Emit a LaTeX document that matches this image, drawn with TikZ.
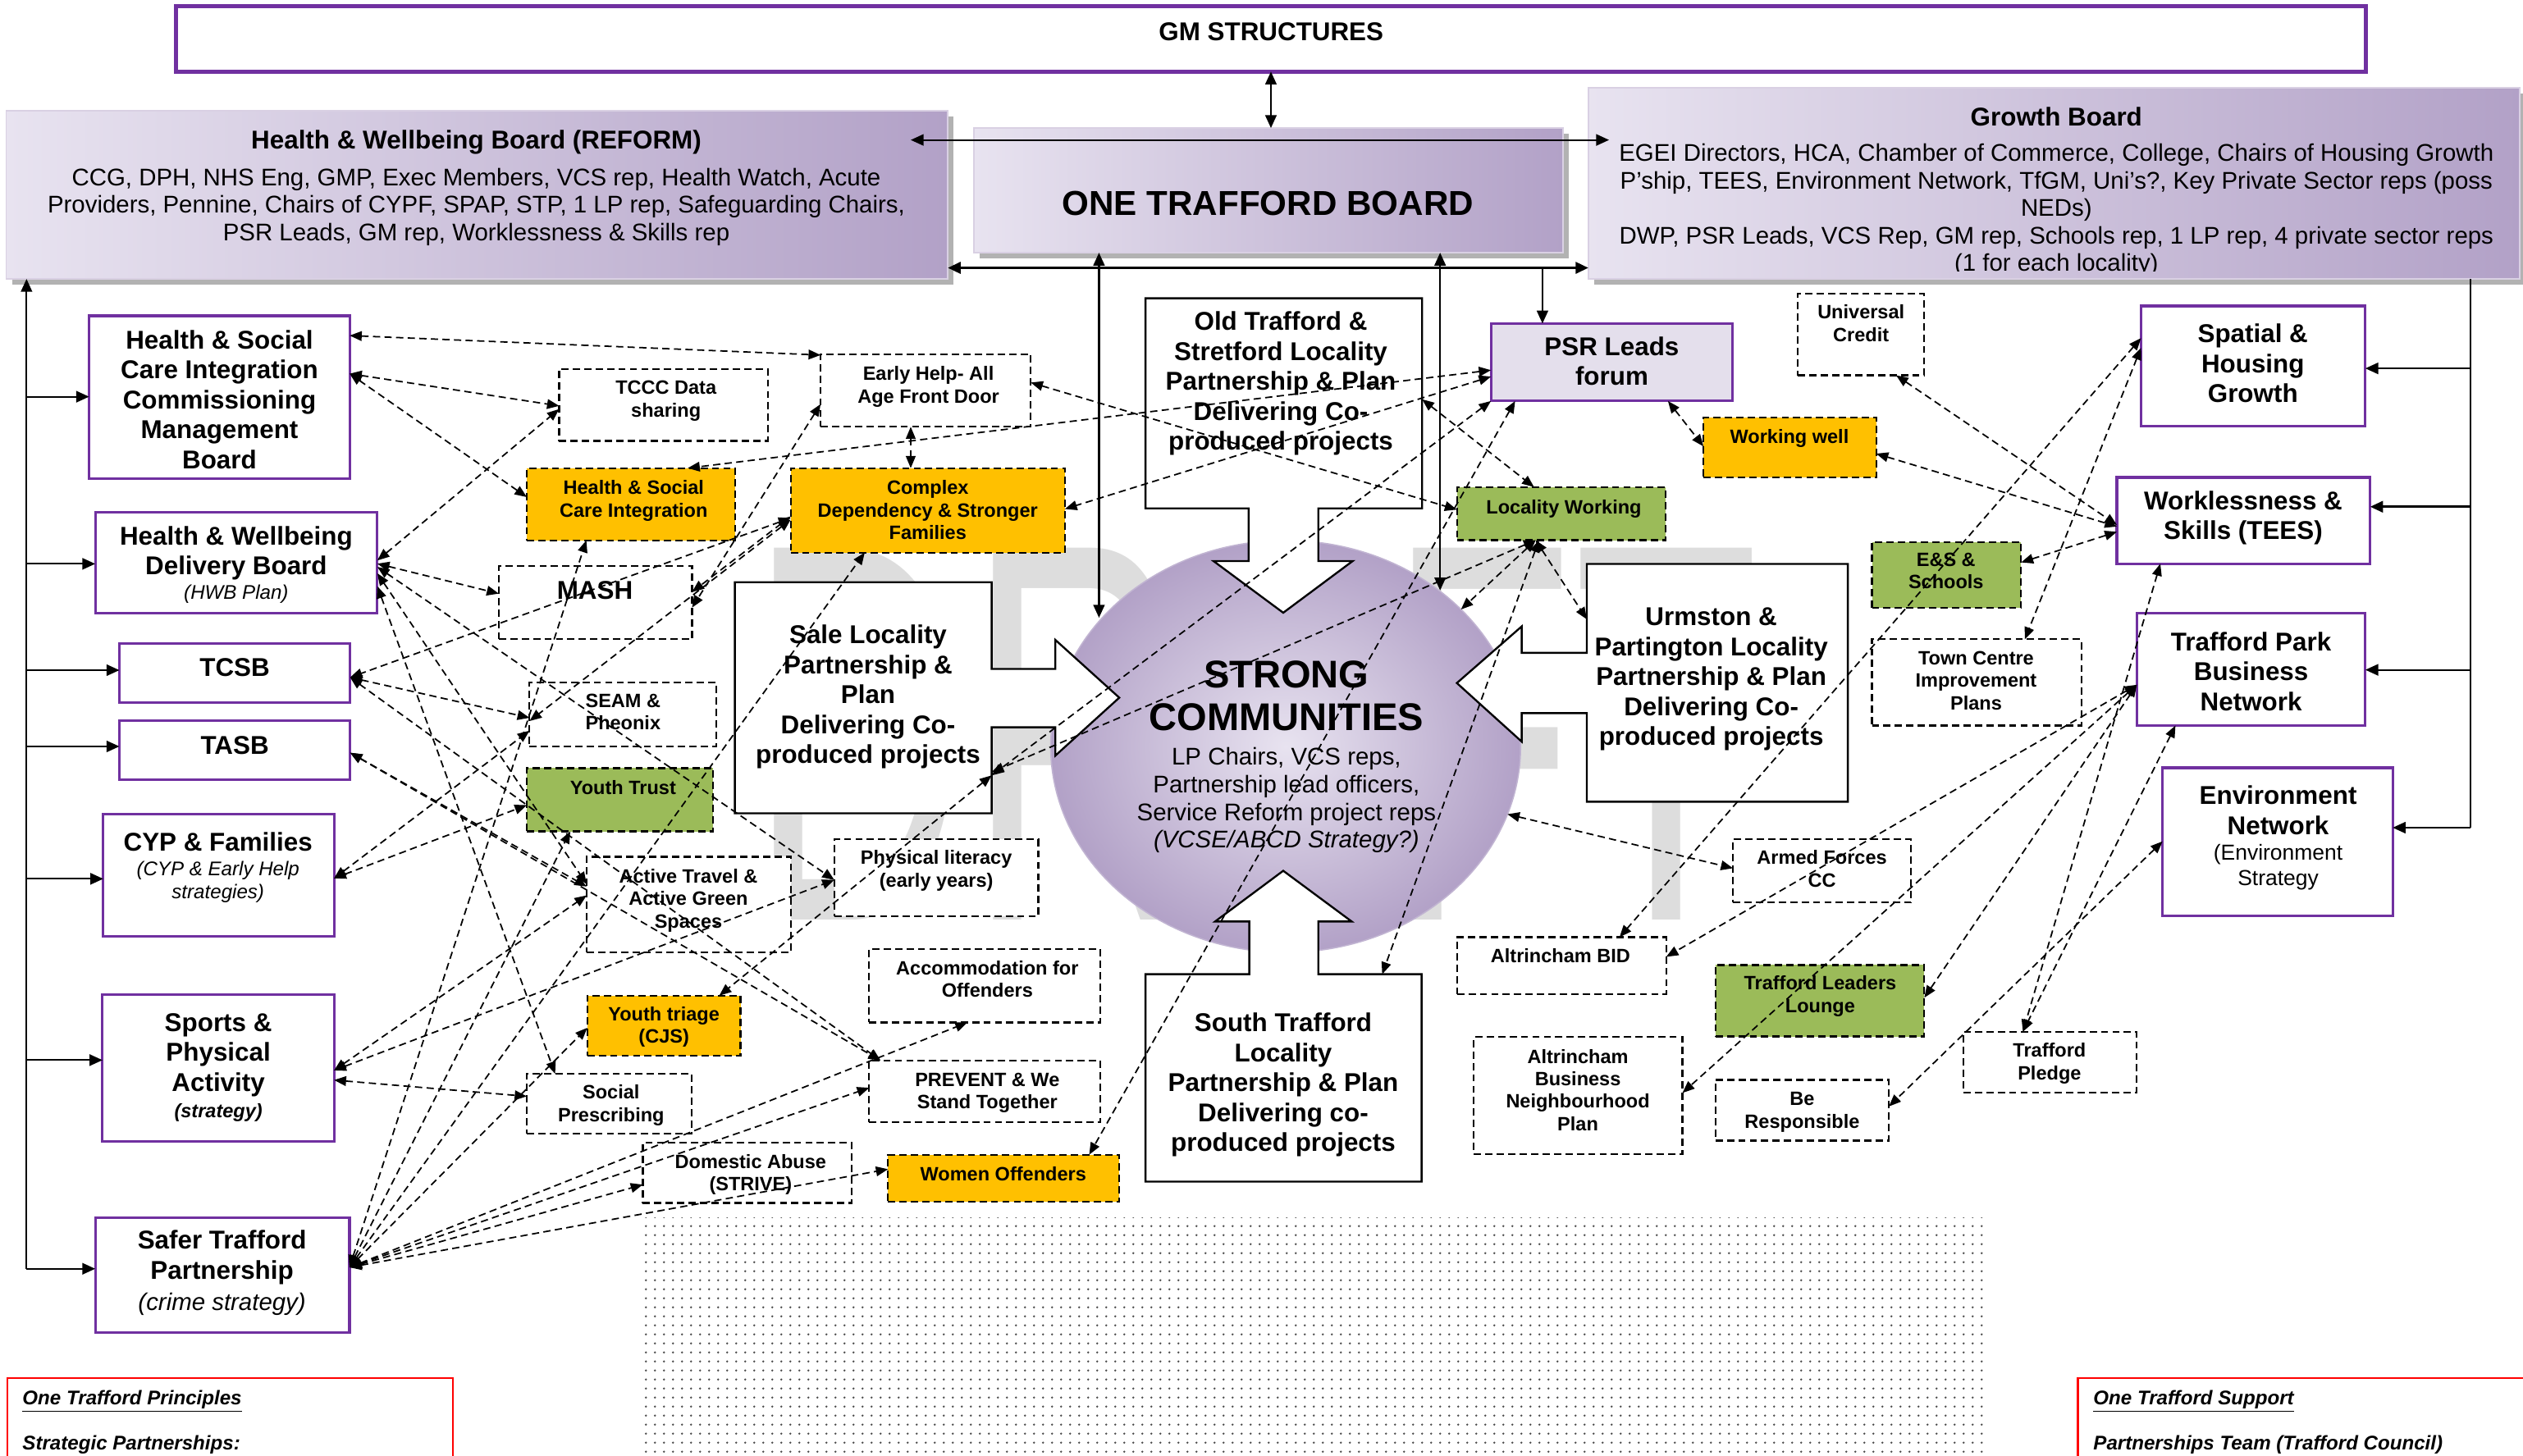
\documentclass[tikz,border=0pt]{standalone}
\usepackage{graphicx}
\usepackage{fontspec}
\setmainfont{Liberation Sans}
\usetikzlibrary{arrows.meta,shapes.geometric,patterns.meta}
\definecolor{gmpurple}{HTML}{7030A0}
\definecolor{yel}{HTML}{FFC000}
\definecolor{grn}{HTML}{9BBB59}
\definecolor{psrfill}{HTML}{E4DFEC}
\definecolor{lavL}{HTML}{E8E3F0}
\definecolor{lavD}{HTML}{B2A1C7}
\definecolor{wm}{HTML}{DDDDDD}
\tikzdeclarepattern{
  name=finedots,
  type=uncolored,
  bounding box={(0pt,0pt) and (5.7pt,5.7pt)},
  tile size={(5.7pt,5.7pt)},
  code={\pgfpathcircle{\pgfqpoint{2.85pt}{2.85pt}}{0.75pt}\pgfusepath{fill}}
}
\newcommand\fT{\fontsize{16}{18.6}\selectfont\bfseries}
\newcommand\fS{\fontsize{12}{14}\selectfont\bfseries}
\newcommand\fR{\fontsize{15}{17.1}\selectfont}
\newcommand\fI{\fontsize{12.3}{14.2}\selectfont\itshape}
\newcommand\bx[6]{\node[#6, minimum width={#4-#2}, minimum height={#5-#3}] (#1) at ({(#2+#4)/2},{(#3+#5)/2}) {};}
\newcommand\tx[5]{\node[tx, font=#4] (#1) at (#2,#3) {#5};}
\newcommand\pnw[3]{([shift={(#2,#3)}]#1.north west)}
\begin{document}
\begin{tikzpicture}[x=1pt,y=-1pt,
  every node/.style={inner sep=0pt,outer sep=0pt},
  purplebox/.style={draw=gmpurple, line width=1.6pt, fill=white},
  dbox/.style={draw=black, line width=1.1pt, dash pattern=on 4.5pt off 2.6pt, fill=white},
  ybox/.style={dbox, fill=yel},
  gbox/.style={dbox, fill=grn},
  psrbox/.style={draw=gmpurple, line width=1.6pt, fill=psrfill},
  board/.style={draw=lavD!50!white, line width=0.8pt, left color=lavL, right color=lavD},
  locshape/.style={draw=black, line width=1.2pt, fill=white},
  tx/.style={align=center, execute at begin node=\strut, execute at end node=\strut},
  conn/.style={draw=black, line width=0.9pt, dash pattern=on 4.5pt off 2.7pt, >={Triangle[length=7.5pt,width=6pt]}, <->},
  sln/.style={draw=black, line width=1.1pt},
  sarr/.style={sln, >={Triangle[length=8pt,width=7pt]}, ->},
  sboth/.style={sln, >={Triangle[length=8pt,width=7pt]}, <->}]
\useasboundingbox (0,0) rectangle (1568,905);
\fill[white] (0,0) rectangle (1568,905);

% watermark and dotted area
\node[anchor=base west, text=wm, font=\fontsize{336}{336}\selectfont] (wmark) at (466,572) {\scalebox{0.56}[1]{DRAFT}};
\fill[pattern=finedots, pattern color=black!70] (399.8,757.2) rectangle (1234.7,905);

% GM structures
\bx{gm}{109.2}{3.9}{1470.5}{44.5}{draw=gmpurple, line width=2.4pt, fill=white}
\tx{tgm}{790}{21.5}{\fT}{GM STRUCTURES}

% boards
\fill[gray!60] (7.4,72.3) rectangle (592.5,176.9);
\bx{hwb}{3.9}{68.8}{589}{173.4}{board}
\fill[gray!60] (608.7,83.1) rectangle (975,160.6);
\bx{otb}{605.2}{79.6}{971.5}{157.1}{board}
\fill[gray!60] (990.7,58.1) rectangle (1571,176.8);
\bx{growth}{987.2}{54.6}{1566}{173.3}{board}
\tx{thwb1}{296}{89}{\fT}{Health \& Wellbeing Board (REFORM)}
\tx{thwb2}{296}{129.5}{\fR}{CCG, DPH,  NHS Eng, GMP,  Exec Members, VCS rep, Health Watch,  Acute\\Providers, Pennine, Chairs of CYPF, SPAP, STP, 1 LP rep, Safeguarding Chairs,\\PSR Leads, GM rep, Worklessness \& Skills rep}
\tx{totb}{788}{128.6}{\fontsize{21.5}{25}\selectfont\bfseries}{ONE TRAFFORD BOARD}
\tx{tgr1}{1278}{74.6}{\fT}{Growth Board}
\begin{scope}
\clip (987.2,54.6) rectangle (1566,168.3);
\tx{tgr2}{1278}{131.7}{\fR}{EGEI Directors, HCA, Chamber of Commerce, College,  Chairs of Housing Growth\\P’ship, TEES, Environment Network,  TfGM, Uni’s?, Key Private Sector reps (poss\\NEDs)\\DWP, PSR Leads, VCS Rep, GM rep, Schools rep, 1 LP rep, 4 private sector reps\\(1 for each locality)}
\end{scope}

% solid connectors at top
\draw[sboth] (gm.south) -- (gm.south |- otb.north);
\coordinate (h87) at (566,87);
\coordinate (g87) at (1000,87);
\draw[sboth] (h87) -- (g87);
\coordinate (h166) at (589,166.5);
\coordinate (g166) at (987.2,166.5);
\draw[sboth, line width=1.8pt] (h166) -- (g166);
\coordinate (v1b) at (683,384);
\coordinate (v2b) at (895,367);
\draw[sboth] (otb.south -| v1b) -- (v1b);
\draw[sboth] (otb.south -| v2b) -- (v2b);
\coordinate (v3t) at (958.6,166.5);

% left trunk
\coordinate (ltTop) at (16.5,173.4);
\coordinate (ltBot) at (16.5,788.7);
\draw[sarr] (ltBot) -- (ltTop);
\coordinate (lb1) at (16.5,246.6);
\coordinate (lb2) at (16.5,350.5);
\coordinate (lb3) at (16.5,416.6);
\coordinate (lb4) at (16.5,464);
\coordinate (lb5) at (16.5,546.3);
\coordinate (lb6) at (16.5,659);
% right trunk
\coordinate (rtTop) at (1535.5,173.3);
\coordinate (rtBot) at (1535.5,514.5);
\draw[sln] (rtTop) -- (rtBot);
\coordinate (rb1) at (1535.5,229);
\coordinate (rb2) at (1535.5,315);
\coordinate (rb3) at (1535.5,416.4);

% strong communities
\node[ellipse, minimum width=292, minimum height=256, inner color=lavL, outer color=lavD, draw=lavD!80!white, line width=0.8pt] (sc) at (799,464) {};
\tx{tsc1}{799.5}{436.5}{\fontsize{24}{26.4}\selectfont\bfseries}{STRONG\\COMMUNITIES}
\tx{tsc2}{799.5}{498.5}{\fR}{LP Chairs, VCS reps,\\Partnership lead officers,\\Service Reform project reps\\\textit{(VCSE/ABCD Strategy?)}}

% locality arrow shapes
\draw[locshape] (711.9,185.4) -- (883.8,185.4) -- (883.8,316) -- (819.3,316) -- (819.3,348.8) -- (840.6,348.8) -- (797.5,380.9) -- (754.2,348.8) -- (776,348.8) -- (776,316) -- (711.9,316) -- cycle;
\draw[locshape] (456.7,361.9) -- (616.3,361.9) -- (616.3,415.8) -- (655.9,415.8) -- (655.9,397.8) -- (695.6,433.7) -- (655.9,469.7) -- (655.9,452.1) -- (616.3,452.1) -- (616.3,505.6) -- (456.7,505.6) -- cycle;
\draw[locshape] (986.2,350.6) -- (1148.4,350.6) -- (1148.4,498.4) -- (986.2,498.4) -- (986.2,443.3) -- (945.7,443.3) -- (945.7,461) -- (905.4,424.6) -- (945.7,389.4) -- (945.7,405.8) -- (986.2,405.8) -- cycle;
\draw[locshape] (711.9,734.5) -- (711.9,605.6) -- (776.4,605.6) -- (776.4,572.8) -- (755.2,572.8) -- (797.5,541.3) -- (840,572.8) -- (819.3,572.8) -- (819.3,605.6) -- (883.5,605.6) -- (883.5,734.5) -- cycle;
\tx{tot}{796}{239.6}{\fT}{Old Trafford \&\\Stretford Locality\\Partnership \& Plan\\Delivering Co-\\produced projects}
\tx{tsale}{539.5}{434.3}{\fT}{Sale Locality\\Partnership \&\\Plan\\Delivering Co-\\produced projects}
\tx{turm}{1063.5}{423.5}{\fT}{Urmston \&\\Partington Locality\\Partnership \& Plan\\Delivering Co-\\produced projects}
\tx{tst}{797.5}{675.6}{\fT}{South Trafford\\Locality\\Partnership \& Plan\\Delivering co-\\produced projects}
\coordinate (saleR) at (616.3,482);
\coordinate (otR) at (883.8,248.2);
\coordinate (urmL) at (986.2,385);
\coordinate (stT) at (859,605.6);

% left purple boxes
\bx{hsci}{55.4}{196.3}{217.3}{297.4}{purplebox}
\bx{hwbd}{59.2}{318.4}{234.5}{381.3}{purplebox}
\bx{tcsb}{74.2}{400.1}{217.6}{436.8}{purplebox}
\bx{tasb}{74.2}{447.9}{217.6}{484.8}{purplebox}
\bx{cyp}{64.2}{506}{207.6}{582}{purplebox}
\bx{sports}{63.7}{618.4}{207.6}{709.4}{purplebox}
\bx{safer}{59.2}{756.8}{217.2}{828.3}{purplebox}
\tx{thsci}{136.4}{251.1}{\fT}{Health \& Social\\Care Integration\\Commissioning\\Management\\Board}
\tx{thwbd}{146.8}{345.1}{\fT}{Health \& Wellbeing\\Delivery Board}
\tx{thwbd2}{146.8}{369.7}{\fI}{(HWB Plan)}
\tx{ttcsb}{145.9}{416.6}{\fT}{TCSB}
\tx{ttasb}{145.9}{465}{\fT}{TASB}
\tx{tcyp}{135.5}{525.5}{\fT}{CYP \& Families}
\tx{tcyp2}{135.5}{549.3}{\fI}{(CYP \& Early Help\\strategies)}
\tx{tsports}{135.7}{657}{\fontsize{16}{18.8}\selectfont\bfseries}{Sports \&\\Physical\\Activity}
\tx{tsports2}{135.7}{692}{\fontsize{12}{14}\selectfont\bfseries\itshape}{(strategy)}
\tx{tsafer}{138}{782.9}{\fontsize{16}{19.1}\selectfont\bfseries}{Safer Trafford\\Partnership}
\tx{tsafer2}{138}{811}{\fR\itshape}{(crime strategy)}
% left branch arrows
\draw[sarr] (lb1) -- (hsci.west |- lb1);
\draw[sarr] (lb2) -- (hwbd.west |- lb2);
\draw[sarr] (lb3) -- (tcsb.west |- lb3);
\draw[sarr] (lb4) -- (tasb.west |- lb4);
\draw[sarr] (lb5) -- (cyp.west |- lb5);
\draw[sarr] (lb6) -- (sports.west |- lb6);
\draw[sarr] (ltBot) -- (safer.west |- ltBot);

% middle dashed boxes
\bx{tccc}{347.5}{229.3}{477.1}{274.1}{dbox}
\bx{early}{510}{220.2}{640.6}{265.3}{dbox}
\bx{hscy}{327.4}{291}{457}{335.9}{ybox}
\bx{cdsf}{491.4}{291}{661.8}{343.5}{ybox}
\bx{mash}{310}{352}{430.1}{397.2}{dbox}
\bx{seam}{329.1}{424.2}{445}{464}{dbox}
\bx{ytrust}{327.4}{477.5}{443.2}{516.8}{gbox}
\bx{atravel}{364.6}{532.6}{491.5}{591.8}{dbox}
\bx{plit}{518.5}{521.6}{645.3}{569.6}{dbox}
\bx{accom}{540.2}{589.9}{683.8}{635.6}{dbox}
\bx{ytriage}{365}{618.9}{460.2}{656.3}{ybox}
\bx{socp}{327.4}{667.5}{429.9}{704.9}{dbox}
\bx{prevent}{540.2}{659.2}{683.8}{697.7}{dbox}
\bx{dabuse}{399.5}{710.4}{529.4}{747.8}{dbox}
\bx{women}{551.9}{717.8}{695.6}{747.2}{ybox}
\tx{ttccc}{413.9}{250.1}{\fS}{TCCC Data\\sharing}
\tx{tearly}{577}{241.3}{\fS}{Early Help- All\\Age Front Door}
\tx{thscy}{393.8}{312.1}{\fS}{Health \& Social\\Care Integration}
\tx{tcdsf}{576.6}{319.2}{\fS}{Complex\\Dependency \& Stronger\\Families}
\tx{tmash}{369.7}{368.7}{\fT}{MASH}
\tx{tseam}{387.2}{444.6}{\fS}{SEAM \&\\Pheonix}
\tx{tytrust}{387.2}{490.8}{\fS}{Youth Trust}
\tx{tatravel}{427.8}{560.5}{\fS}{Active Travel \&\\Active Green\\Spaces}
\tx{tplit}{581.9}{542}{\fS}{Physical literacy\\(early years)}
\tx{taccom}{613.6}{610.6}{\fS}{Accommodation for\\Offenders}
\tx{tytriage}{412.6}{639.1}{\fS}{Youth triage\\(CJS)}
\tx{tsocp}{379.8}{688}{\fS}{Social\\Prescribing}
\tx{tprevent}{613.6}{680.1}{\fS}{PREVENT \& We\\Stand Together}
\tx{tdabuse}{466.5}{730.9}{\fS}{Domestic Abuse\\(STRIVE)}
\tx{twomen}{623.5}{731.4}{\fS}{Women Offenders}

% right-hand boxes
\bx{psr}{926.6}{201.1}{1076.8}{249.3}{psrbox}
\bx{ucredit}{1117.4}{182.6}{1195.9}{233.3}{dbox}
\bx{wwell}{1058.7}{259.5}{1166}{296.8}{ybox}
\bx{locw}{905.4}{302.8}{1035.2}{335.8}{gbox}
\bx{es}{1163.4}{336.9}{1256.1}{377.9}{gbox}
\bx{tcip}{1163.4}{397.4}{1293.5}{451}{dbox}
\bx{spatial}{1330.6}{190.2}{1470}{265}{purplebox}
\bx{tees}{1315.6}{296.8}{1473}{350.4}{purplebox}
\bx{tpark}{1328}{381.3}{1470}{451}{purplebox}
\bx{env}{1344}{477.3}{1487}{569.5}{purplebox}
\bx{armed}{1077}{521.7}{1187.7}{561}{dbox}
\bx{abid}{905.5}{582.6}{1035.5}{618}{dbox}
\bx{tll}{1066.1}{599.9}{1195.9}{644.3}{gbox}
\bx{abnp}{916}{644.7}{1045.6}{717.4}{dbox}
\bx{beresp}{1066.1}{671.3}{1173.9}{709}{dbox}
\bx{pledge}{1220.2}{641.3}{1328}{679}{dbox}
\tx{tpsr}{1001.7}{227.2}{\fT}{PSR Leads\\forum}
\tx{tucredit}{1156.6}{203.1}{\fS}{Universal\\Credit}
\tx{twwell}{1112.1}{272.9}{\fS}{Working well}
\tx{tlocw}{971.9}{316.9}{\fS}{Locality Working}
\tx{tes}{1209.4}{356.8}{\fS}{E\&S \&\\Schools}
\tx{ttcip}{1228.1}{425.1}{\fS}{Town Centre\\Improvement\\Plans}
\tx{tspatial}{1400.1}{228.6}{\fT}{Spatial \&\\Housing\\Growth}
\tx{ttees}{1394.1}{323.1}{\fT}{Worklessness \&\\Skills (TEES)}
\tx{ttpark}{1399}{420.1}{\fT}{Trafford Park\\Business\\Network}
\tx{tenv}{1415.8}{506.4}{\fT}{Environment\\Network}
\tx{tenv2}{1415.8}{540.1}{\fontsize{13.5}{15.6}\selectfont}{(Environment\\Strategy}
\tx{tarmed}{1132.3}{542}{\fS}{Armed Forces\\CC}
\tx{tabid}{969.8}{595.5}{\fS}{Altrincham BID}
\tx{ttll}{1131.2}{620.2}{\fS}{Trafford Leaders\\Lounge}
\tx{tabnp}{980.6}{679.6}{\fS}{Altrincham\\Business\\Neighbourhood\\Plan}
\tx{tberesp}{1120}{692.1}{\fS}{Be\\Responsible}
\tx{tpledge}{1273.7}{661.9}{\fS}{Trafford\\Pledge}
\draw[sarr] (v3t) -- (psr.north -| v3t);
\draw[sarr] (rb1) -- (spatial.east |- rb1);
\draw[sarr, line width=1.5pt] (rb2) -- (tees.east |- rb2);
\draw[sarr] (rb3) -- (tpark.east |- rb3);
\draw[sarr] (rtBot) -- (env.east |- rtBot);

% bottom red boxes
\draw[red, line width=1.3pt] (4.6,856.7) rectangle (281.4,915);
\draw[red, line width=1.3pt] (1291.3,856.7) rectangle (1575,915);
\node[anchor=base west, font=\fontsize{12.3}{14}\selectfont\bfseries\itshape] (otp1) at (14,873.4) {\underline{One Trafford Principles}};
\node[anchor=base west, font=\fontsize{12.3}{14}\selectfont\bfseries\itshape] (otp2) at (14,901.4) {Strategic Partnerships:};
\node[anchor=base west, font=\fontsize{12.3}{14}\selectfont\bfseries\itshape] (ots1) at (1301,873.4) {\underline{One Trafford Support}};
\node[anchor=base west, font=\fontsize{12.3}{14}\selectfont\bfseries\itshape] (ots2) at (1301,901.4) {Partnerships Team (Trafford Council)};

% dashed connectors
\draw[conn] \pnw{hsci}{161.9}{12.3} -- \pnw{early}{0}{0.5};
\draw[conn] \pnw{hsci}{161.9}{36} -- \pnw{tccc}{0}{23};
\draw[conn] \pnw{hsci}{161.9}{36} -- \pnw{hscy}{0}{18};
\draw[conn] \pnw{hwbd}{175.3}{30} -- \pnw{tccc}{0}{25};
\draw[conn] \pnw{hwbd}{175.3}{32} -- \pnw{mash}{0}{17};
\draw[conn] \pnw{hwbd}{175.3}{34} -- \pnw{plit}{0}{25.4};
\draw[conn] \pnw{hwbd}{175.3}{46} -- \pnw{socp}{17.6}{0};
\draw[conn] \pnw{hwbd}{175.3}{38} -- \pnw{atravel}{0}{17};
\draw[conn] \pnw{psr}{0}{29} -- \pnw{hscy}{100}{0};
\draw[conn] \pnw{psr}{0}{33} -- \pnw{cdsf}{170.4}{25.4};
\draw[conn] \pnw{early}{56}{45.1} -- \pnw{cdsf}{74.6}{0};
\draw[conn] \pnw{early}{130.6}{17.6} -- \pnw{locw}{0}{14};
\draw[conn] \pnw{early}{0}{31} -- \pnw{mash}{120.1}{25.7};
\draw[conn] \pnw{cdsf}{0}{30} -- \pnw{mash}{120.1}{16};
\draw[conn] \pnw{cdsf}{0}{31} -- \pnw{tcsb}{143.4}{21};
\draw[conn] \pnw{cdsf}{0}{32} -- \pnw{seam}{0}{24};
\draw[conn] \pnw{tcsb}{143.4}{21} -- \pnw{seam}{0}{22};
\draw[conn] \pnw{tcsb}{143.4}{21} -- \pnw{prevent}{7}{0};
\draw[conn] \pnw{tasb}{143.4}{20} -- \pnw{prevent}{7}{0};
\draw[conn] \pnw{tasb}{143.4}{20} -- \pnw{atravel}{0}{18.5};
\draw[conn] \pnw{cyp}{143.4}{40} -- \pnw{seam}{0}{30};
\draw[conn] \pnw{cyp}{143.4}{40} -- \pnw{ytrust}{0}{23};
\draw[conn] \pnw{sports}{143.9}{47} -- \pnw{atravel}{0}{24};
\draw[conn] \pnw{sports}{143.9}{47} -- \pnw{plit}{0}{25.4};
\draw[conn] \pnw{sports}{143.9}{53} -- \pnw{socp}{0}{14};
\draw[conn] \pnw{safer}{158}{31} -- \pnw{cdsf}{46}{52.5};
\draw[conn] \pnw{safer}{158}{31} -- \pnw{ytriage}{0}{20};
\draw[conn] \pnw{safer}{158}{31} -- \pnw{dabuse}{0}{26};
\draw[conn] \pnw{safer}{158}{31} -- \pnw{prevent}{0}{17};
\draw[conn] \pnw{safer}{158}{31} -- \pnw{accom}{61}{45.7};
\draw[conn] \pnw{safer}{158}{31} -- \pnw{women}{0}{9};
\draw[conn] \pnw{safer}{158}{31} -- \pnw{hscy}{37}{44.9};
\draw[conn] \pnw{safer}{158}{31} -- \pnw{ytrust}{27}{39.3};
\draw[conn] (saleR) -- \pnw{ytriage}{82}{0};
\draw[conn] \pnw{psr}{0}{48.2} -- (saleR);
\draw[conn] \pnw{locw}{49}{33} -- ([yshift=2pt]saleR);
\draw[conn] \pnw{psr}{15}{48.2} -- \pnw{women}{125}{0};
\draw[conn] \pnw{locw}{49}{33} -- (urmL);
\draw[conn] \pnw{locw}{49}{33} -- (sc.38.8);
\draw[conn] \pnw{locw}{51}{33} -- (stT);
\draw[conn] (otR) -- \pnw{locw}{48}{0};
\draw[conn] \pnw{psr}{110}{48.2} -- \pnw{wwell}{0}{18};
\draw[conn] \pnw{ucredit}{61}{50.7} -- \pnw{tees}{0}{29.5};
\draw[conn] \pnw{wwell}{107.3}{22.5} -- \pnw{tees}{0}{30.5};
\draw[conn] \pnw{es}{92.7}{12.7} -- \pnw{tees}{0}{33.8};
\draw[conn] \pnw{spatial}{0}{20} -- \pnw{abid}{101}{0};
\draw[conn] \pnw{spatial}{0}{26} -- \pnw{tcip}{95}{0};
\draw[conn] \pnw{tees}{27}{53.6} -- \pnw{pledge}{37}{0};
\draw[conn] \pnw{tpark}{0}{44.4} -- \pnw{abid}{130}{12.2};
\draw[conn] \pnw{tpark}{0}{44.4} -- \pnw{tll}{129.8}{20.3};
\draw[conn] \pnw{tpark}{0}{44.4} -- \pnw{abnp}{129.6}{34.7};
\draw[conn] \pnw{tpark}{24}{69.7} -- \pnw{pledge}{37}{0};
\draw[conn] \pnw{env}{0}{45.7} -- \pnw{beresp}{107.8}{16.5};
\draw[conn] (sc.-17.4) -- \pnw{armed}{0}{18};
\end{tikzpicture}
\end{document}
